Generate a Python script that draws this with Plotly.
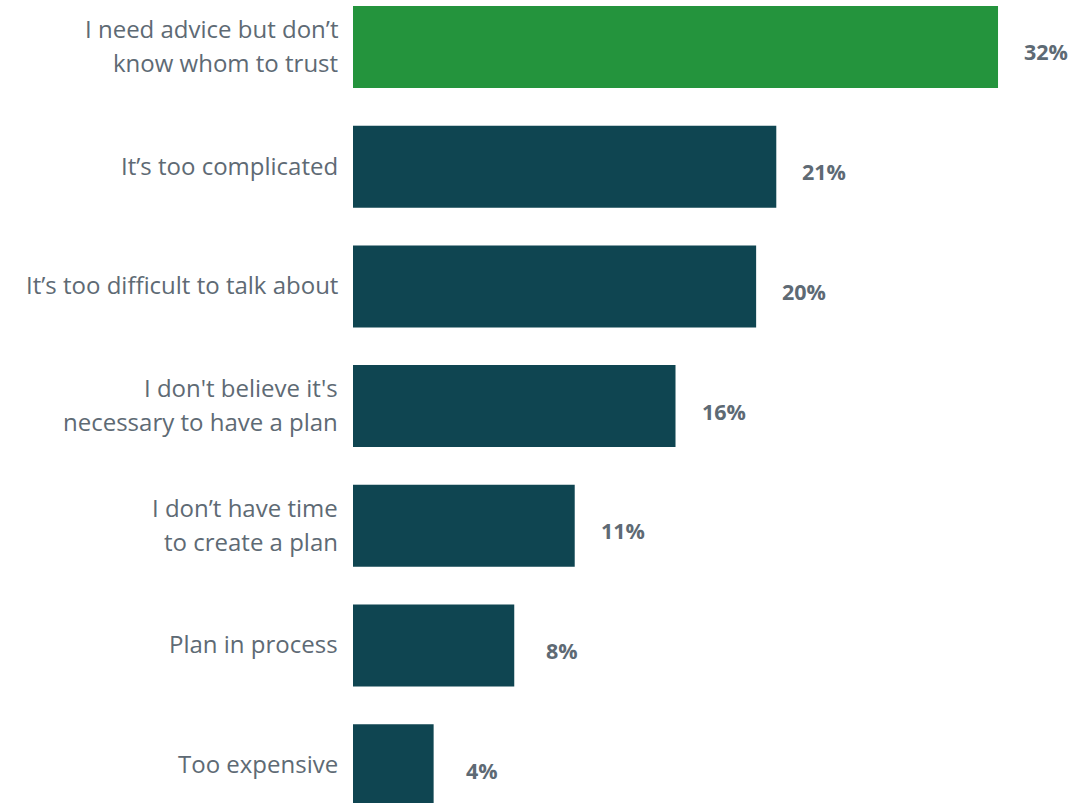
import plotly.graph_objects as go

# Survey responses: reasons for not having a plan
categories = [
    "I need advice but don’t\nknow whom to trust",
    "It’s too complicated",
    "It’s too difficult to talk about",
    "I don't believe it's\nnecessary to have a plan",
    "I don’t have time\nto create a plan",
    "Plan in process",
    "Too expensive",
]
values = [32, 21, 20, 16, 11, 8, 4]
highlight = [True, False, False, False, False, False, False]

GREEN = "#24943d"
TEAL = "#0f4551"
TEXT = "#5e6a74"
FONT = "Open Sans"

positions = list(range(len(categories)))
colors = [GREEN if h else TEAL for h in highlight]

fig = go.Figure(
    go.Bar(
        x=values,
        y=positions,
        orientation="h",
        marker=dict(color=colors, line=dict(width=0)),
        width=0.685,
        hoverinfo="skip",
    )
)

annotations = []
for pos, label, val in zip(positions, categories, values):
    lines = label.split("\n")
    n = len(lines)
    for i, line in enumerate(lines):
        offset = (i - (n - 1) / 2) * 33.5
        annotations.append(
            dict(
                x=0, xref="paper", y=pos, yref="y",
                text=line, showarrow=False,
                xanchor="right", yanchor="middle",
                xshift=-13, yshift=1.5 - offset,
                font=dict(family=FONT, size=24, color=TEXT),
            )
        )
    annotations.append(
        dict(
            x=val, xref="x", y=pos, yref="y",
            text=f"<b>{val}%</b>", showarrow=False,
            xanchor="center", yanchor="middle",
            xshift=48, yshift=-5,
            font=dict(family=FONT, size=21.5, color=TEXT),
        )
    )

fig.update_layout(
    width=1073, height=803,
    margin=dict(l=353, r=0, t=0, b=0),
    paper_bgcolor="white", plot_bgcolor="white",
    showlegend=False,
    xaxis=dict(range=[0, 35.72], visible=False, fixedrange=True),
    yaxis=dict(range=[6.316, -0.3926], visible=False, fixedrange=True),
    annotations=annotations,
)

fig.write_html("out.html")
